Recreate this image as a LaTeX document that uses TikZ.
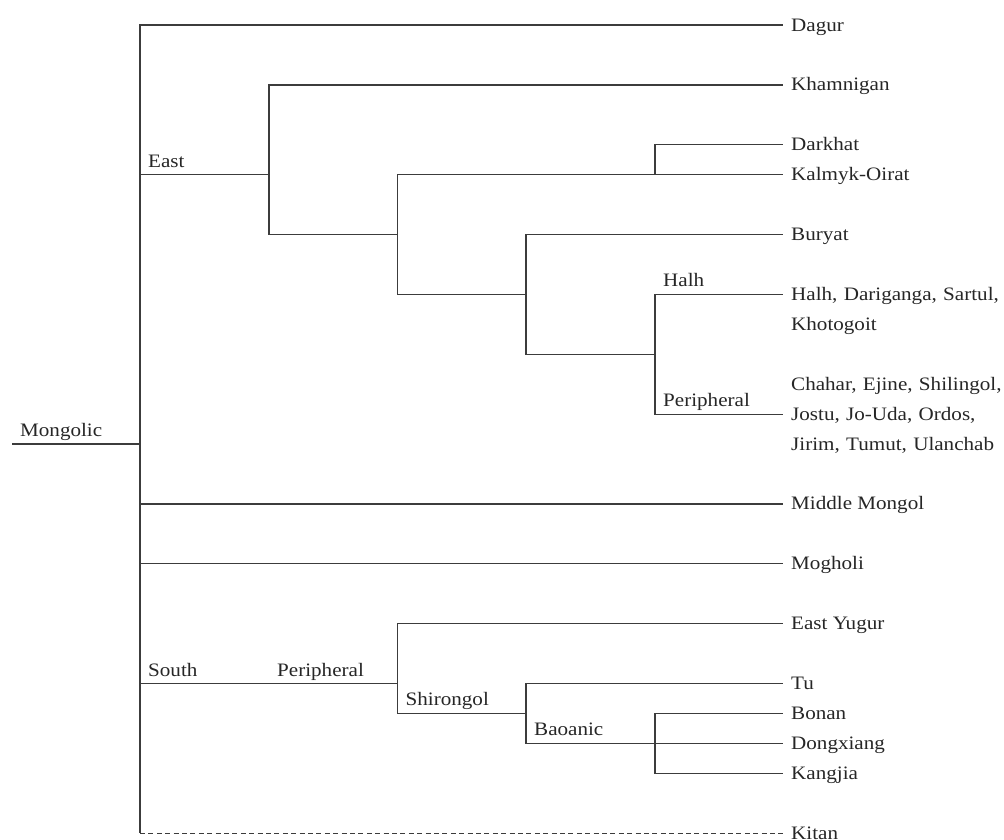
\documentclass[tikz,border=0pt]{standalone}
\usepackage{fontspec}
\setmainfont{Liberation Serif}[FakeStretch=1.11]
\definecolor{linegray}{HTML}{3C3C3C}
\definecolor{inkgray}{HTML}{262626}
\newcommand{\treefont}{\fontsize{19}{29.93}\selectfont}
\begin{document}
\begin{tikzpicture}[x=1pt,y=-1pt,
  branch/.style={draw=linegray, line width=1.2pt},
  leaf/.style={anchor=west, inner xsep=8pt, inner ysep=0pt, text height=14pt,
    text depth=2pt, text=inkgray, font=\treefont},
  multileaf/.style={anchor=base west, inner xsep=8pt, inner ysep=0pt,
    text width=220pt, align=left, text=inkgray, font=\treefont},
  clade/.style={anchor=base west, inner xsep=8pt, inner ysep=0pt,
    text=inkgray, font=\treefont}]
\useasboundingbox (0,0) rectangle (1004,839);

% branching points
\coordinate (rootin) at (12,444);
\coordinate (root) at (140,444);
\coordinate (east) at (269,174.7);
\coordinate (oirbur) at (397.5,234.5);
\coordinate (dark) at (655,174.7);
\coordinate (bur) at (526,294.4);
\coordinate (halhp) at (655,354.2);
\coordinate (south) at (397.5,683.5);
\coordinate (shir) at (526,713.4);
\coordinate (bao) at (655,743.3);

% languages
\node[leaf] (dagur) at (783,25) {Dagur};
\node[leaf] (khamnigan) at (783,84.9) {Khamnigan};
\node[leaf] (darkhat) at (783,144.7) {Darkhat};
\node[leaf] (kalmyk) at (783,174.7) {Kalmyk-Oirat};
\node[leaf] (buryat) at (783,234.5) {Buryat};
\node[multileaf] (halhleaf) at (783,300.4) {Halh, Dariganga, Sartul,\\Khotogoit};
\node[multileaf] (chahar) at (783,390.2) {Chahar, Ejine, Shilingol,\\Jostu, Jo-Uda, Ordos,\\Jirim, Tumut, Ulanchab};
\node[leaf] (middle) at (783,503.9) {Middle Mongol};
\node[leaf] (mogholi) at (783,563.7) {Mogholi};
\node[leaf] (eyugur) at (783,623.6) {East Yugur};
\node[leaf] (tu) at (783,683.5) {Tu};
\node[leaf] (bonan) at (783,713.4) {Bonan};
\node[leaf] (dongx) at (783,743.3) {Dongxiang};
\node[leaf] (kangjia) at (783,773.3) {Kangjia};
\node[leaf] (kitan) at (783,833.1) {Kitan};

% group names
\node[clade] (mongolic) at (12,436.5) {Mongolic};
\node[clade] (eastlbl) at (140,167) {East};
\node[clade] (halhlbl) at (655,286.8) {Halh};
\node[clade] (periplbl) at (655,406.5) {Peripheral};
\node[clade] (southlbl) at (140,676) {South};
\node[clade] (perislbl) at (269,676) {Peripheral};
\node[clade] (shirlbl) at (397.5,705.8) {Shirongol};
\node[clade] (baolbl) at (526,735.7) {Baoanic};

% branches
\draw[branch] (rootin) -- (root);
\draw[branch] (root) |- (dagur.west);
\draw[branch] (root) |- (east);
\draw[branch] (east) |- (khamnigan.west);
\draw[branch] (east) |- (oirbur);
\draw[branch] (oirbur) |- (dark);
\draw[branch] (dark) |- (darkhat.west);
\draw[branch] (dark) -- (kalmyk.west);
\draw[branch] (oirbur) |- (bur);
\draw[branch] (bur) |- (buryat.west);
\draw[branch] (bur) |- (halhp);
\draw[branch] (halhp) |- ([yshift=6pt]halhleaf.base west);
\draw[branch] (halhp) |- ([yshift=-23.93pt]chahar.base west);
\draw[branch] (root) |- (middle.west);
\draw[branch] (root) |- (mogholi.west);
\draw[branch] (root) |- (south);
\draw[branch] (south) |- (eyugur.west);
\draw[branch] (south) |- (shir);
\draw[branch] (shir) |- (tu.west);
\draw[branch] (shir) |- (bao);
\draw[branch] (bao) |- (bonan.west);
\draw[branch] (bao) -- (dongx.west);
\draw[branch] (bao) |- (kangjia.west);
\draw[branch] (root) -- (root |- kitan.west);
\draw[branch, dash pattern=on 5pt off 3.4pt] (root |- kitan.west) -- (kitan.west);
\end{tikzpicture}
\end{document}
